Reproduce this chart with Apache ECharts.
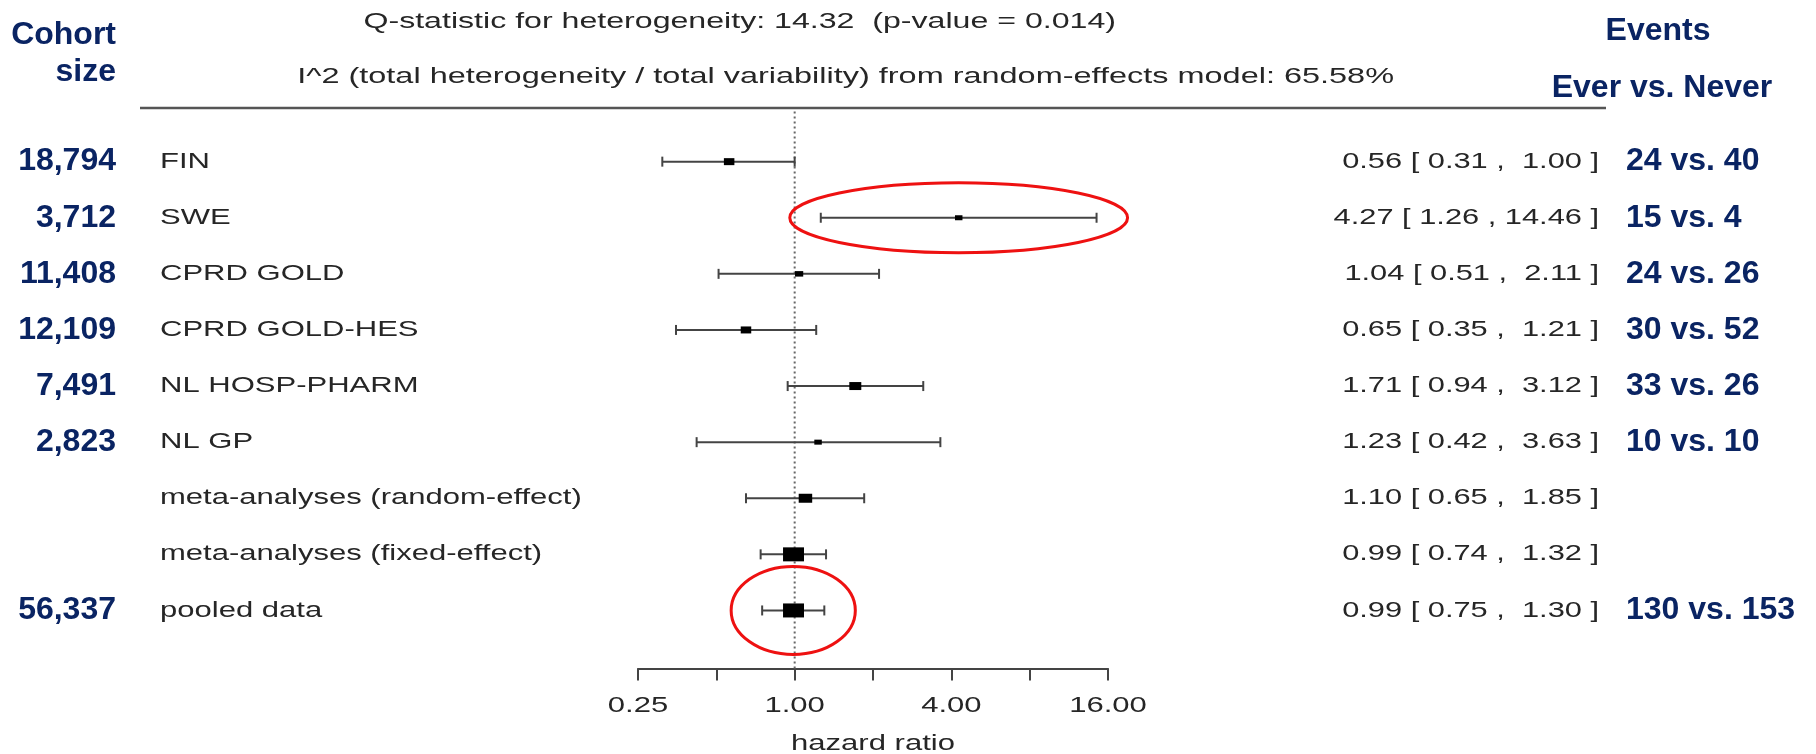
<!DOCTYPE html>
<html>
<head>
<meta charset="utf-8">
<script src="https://cdn.jsdelivr.net/npm/echarts@6/dist/echarts.min.js"></script>
<style>html,body{margin:0;padding:0;background:#fff}#c{width:1816px;height:754px}</style>
</head>
<body>
<div id="c"></div>
<script>
// ---------- data ----------
const studies = ['FIN', 'SWE', 'CPRD GOLD', 'CPRD GOLD-HES', 'NL HOSP-PHARM', 'NL GP',
  'meta-analyses (random-effect)', 'meta-analyses (fixed-effect)', 'pooled data'];
const cohortSize = [18794, 3712, 11408, 12109, 7491, 2823, null, null, 56337];
const hazardRatio = [0.56, 4.27, 1.04, 0.65, 1.71, 1.23, 1.10, 0.99, 0.99];
const ciLower = [0.31, 1.26, 0.51, 0.35, 0.94, 0.42, 0.65, 0.74, 0.75];
const ciUpper = [1.00, 14.46, 2.11, 1.21, 3.12, 3.63, 1.85, 1.32, 1.30];
const eventsEver = [24, 15, 24, 30, 33, 10, null, null, 130];
const eventsNever = [40, 4, 26, 52, 26, 10, null, null, 153];
const studyWeight = [7, 5, 5.5, 7, 8, 5, 9, 14, 14];      // relative box size as drawn
const highlighted = ['SWE', 'pooled data'];
const tickValues = [0.25, 1, 4, 16];
const tickLabels = ['0.25', '1.00', '4.00', '16.00'];
const statsLines = ['Q-statistic for heterogeneity: 14.32  (p-value = 0.014)',
  'I^2 (total heterogeneity / total variability) from random-effects model: 65.58%'];
const headerLeft = ['Cohort', 'size'];
const headerRight = ['Events', 'Ever vs. Never'];
const axisTitle = 'hazard ratio';

// ---------- helpers ----------
const NAVY = '#0a2463';
const GRAY = '#262626';
const fmtInt = n => String(n).replace(/\B(?=(\d{3})+(?!\d))/g, ',');
const fmtCI = i => {
  const hi = ciUpper[i].toFixed(2);
  return hazardRatio[i].toFixed(2) + ' [ ' + ciLower[i].toFixed(2) + ' , ' + (hi.length < 5 ? ' ' + hi : hi) + ' ]';
};
function txt(text, x, y, align, o) {
  return {
    type: 'text', x: x, y: y, scaleX: o.sx || 1, silent: true,
    style: {
      text: text, x: 0, y: 0, align: align, verticalAlign: 'middle',
      textAlign: align, textVerticalAlign: 'middle',
      fill: o.color, fontSize: o.size, fontFamily: o.family || 'Liberation Sans, Arial, sans-serif',
      fontWeight: o.weight || 'normal'
    }
  };
}
const grayOpt = {color: GRAY, size: 22, sx: 1.41};
const ciOpt = {color: GRAY, size: 22, sx: 1.40};
const q1Opt = {color: GRAY, size: 22, sx: 1.46};
const q2Opt = {color: GRAY, size: 22, sx: 1.475};
const navyOpt = {color: NAVY, size: 32, sx: 1.0, weight: 'bold'};

function renderForest(params, api) {
  const i = api.value(3);
  const pm = api.coord([api.value(0), i]);
  const pl = api.coord([api.value(1), i]);
  const ph = api.coord([api.value(2), i]);
  const y = pm[1];
  const h = studyWeight[i], w = h * 1.5;
  const line = {stroke: '#444', lineWidth: 2};
  const ch = [
    {type: 'line', shape: {x1: pl[0], y1: y, x2: ph[0], y2: y}, style: line},
    {type: 'line', shape: {x1: pl[0], y1: y - 5, x2: pl[0], y2: y + 5}, style: line},
    {type: 'line', shape: {x1: ph[0], y1: y - 5, x2: ph[0], y2: y + 5}, style: line},
    {type: 'rect', shape: {x: pm[0] - w / 2, y: y - h / 2, width: w, height: h}, style: {fill: '#000'}},
    txt(studies[i], 160, y, 'left', grayOpt),
    txt(fmtCI(i), 1599, y, 'right', ciOpt)
  ];
  if (cohortSize[i] != null) ch.push(txt(fmtInt(cohortSize[i]), 116, y, 'right', navyOpt));
  if (eventsEver[i] != null) ch.push(txt(eventsEver[i] + ' vs. ' + eventsNever[i], 1626, y, 'left', navyOpt));
  if (highlighted.indexOf(studies[i]) >= 0) {
    ch.push({type: 'ellipse', shape: {cx: (pl[0] + ph[0]) / 2, cy: y, rx: (ph[0] - pl[0]) / 2 + 31, ry: 30 + h},
      style: {fill: 'none', stroke: '#ee1111', lineWidth: 3}});
  }
  return {type: 'group', children: ch};
}

function renderRefLine(params, api) {
  const cs = params.coordSys;
  const x = api.coord([api.value(0), 0])[0];
  return {type: 'line', shape: {x1: x, y1: cs.y - 22, x2: x, y2: cs.y + cs.height + 30},
    style: {stroke: '#666', lineWidth: 2, lineDash: [2, 3]}};
}

function renderTickLabel(params, api) {
  const cs = params.coordSys;
  const x = api.coord([api.value(0), 0])[0];
  return txt(tickLabels[params.dataIndex], x, cs.y + cs.height + 30 + 37, 'center', grayOpt);
}

const chart = echarts.init(document.getElementById('c'), null, {renderer: 'canvas'});
chart.setOption({
  backgroundColor: '#fff',
  animation: false,
  grid: {left: 638, right: 708, top: 133.6, bottom: 115.5},
  xAxis: {
    type: 'log', logBase: 2, min: 0.25, max: 16, offset: 30,
    axisLine: {show: true, lineStyle: {color: '#444', width: 2}},
    axisTick: {show: true, length: 12, lineStyle: {color: '#444', width: 2}},
    axisLabel: {show: false},
    splitLine: {show: false}
  },
  yAxis: {type: 'category', data: studies, inverse: true, show: false},
  series: [
    {type: 'custom', renderItem: renderRefLine, data: [[1]], encode: {x: 0}, clip: false, z: 1, silent: true},
    {type: 'custom', renderItem: renderForest, clip: false, z: 2, silent: true,
      data: studies.map((s, i) => [hazardRatio[i], ciLower[i], ciUpper[i], i]),
      encode: {x: [0, 1, 2], y: 3}},
    {type: 'custom', renderItem: renderTickLabel, clip: false, z: 2, silent: true,
      data: tickValues.map(v => [v]), encode: {x: 0}}
  ],
  graphic: [
    {type: 'line', shape: {x1: 140, y1: 108, x2: 1606, y2: 108}, style: {stroke: '#555', lineWidth: 2.5}, silent: true},
    txt(statsLines[0], 1116, 22, 'right', q1Opt),
    txt(statsLines[1], 1394, 77, 'right', q2Opt),
    txt(headerLeft[0], 116, 35, 'right', navyOpt),
    txt(headerLeft[1], 116, 72, 'right', navyOpt),
    txt(headerRight[0], 1658, 31, 'center', navyOpt),
    txt(headerRight[1], 1662, 88, 'center', navyOpt),
    txt(axisTitle, 873, 744, 'center', grayOpt)
  ]
});
</script>
</body>
</html>
